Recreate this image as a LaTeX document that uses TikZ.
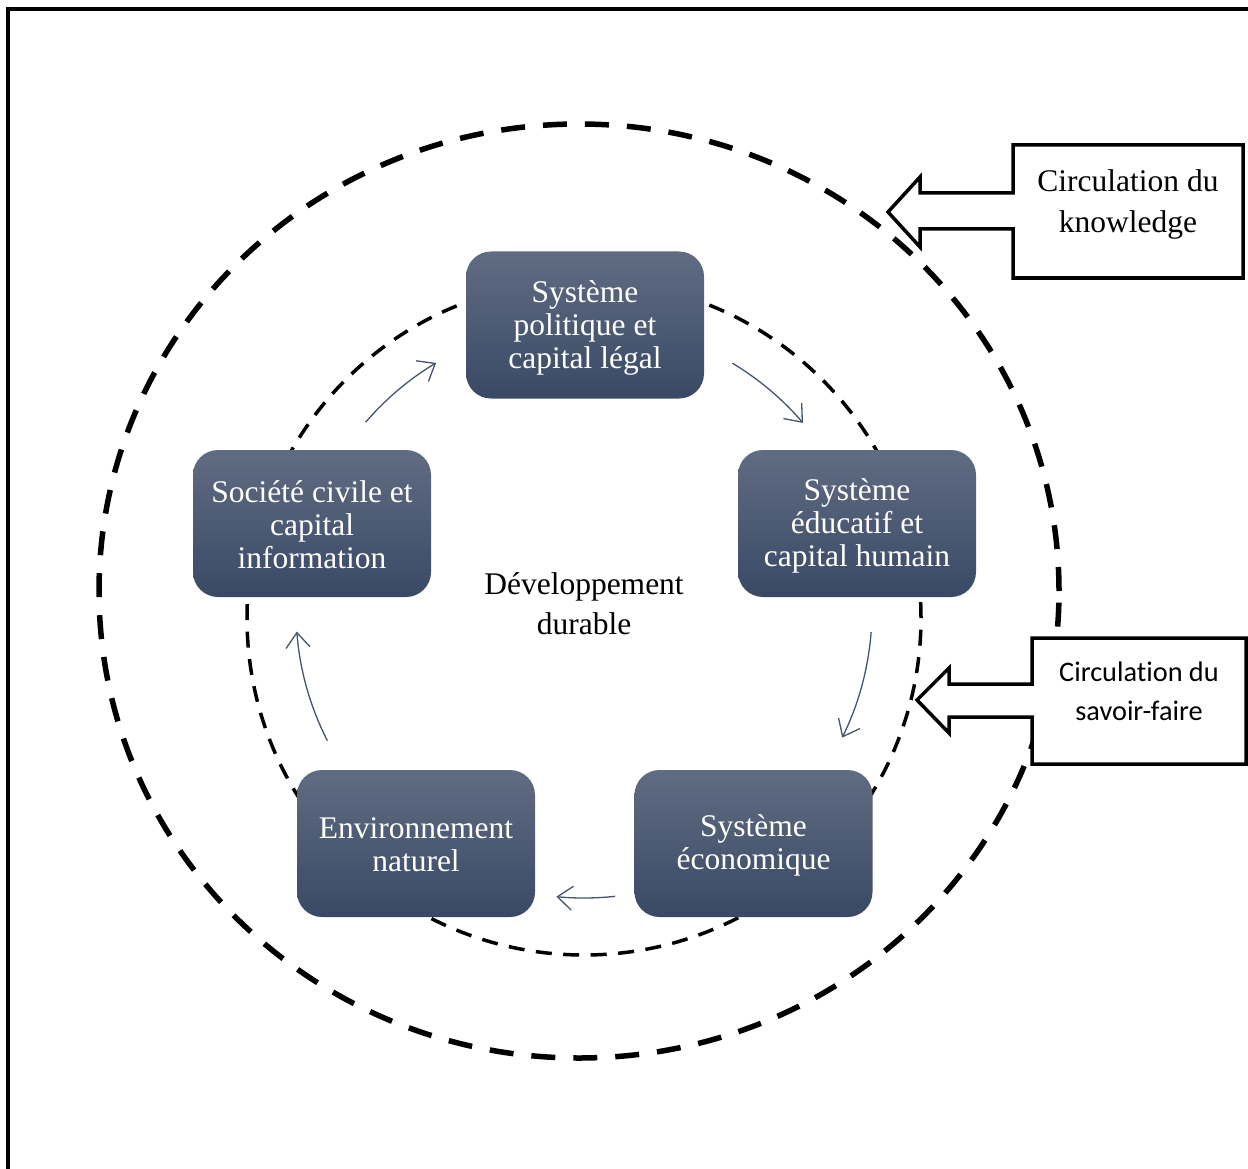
\documentclass[tikz,border=0pt]{standalone}
\usepackage{fontspec}
\setmainfont{Liberation Serif}
\newfontfamily\calfont[Ligatures=NoCommon]{Carlito}
\usetikzlibrary{arrows.meta,calc}
\definecolor{boxtop}{RGB}{96,108,130}
\definecolor{boxbot}{RGB}{57,73,101}
\definecolor{arrcol}{RGB}{68,84,106}
\begin{document}
\begin{tikzpicture}[x=1pt,y=1pt,
  sysbox/.style={rounded corners=25pt, minimum width=238pt, minimum height=147pt,
    top color=boxtop, bottom color=boxbot, draw=none, inner sep=0pt},
  boxtxt/.style={text=white, align=center, font=\fontsize{31.5}{33}\selectfont, inner sep=0pt},
  cyc/.style={draw=arrcol, line width=1.3pt, -{Straight Barb[length=15pt,width=24pt,line width=1.3pt]}},
  outerdash/.style={line width=5.5pt, dash pattern=on 24pt off 18pt},
  innerdash/.style={line width=3.5pt, dash pattern=on 16pt off 11.5pt},
  callout/.style={draw, line width=3.5pt, fill=white, line join=miter},
  lbl/.style={align=center, inner sep=0pt}]
\useasboundingbox (0,0) rectangle (1248,-1169);
\clip (0,0) rectangle (1248,-1169);
% frame
\draw[line width=4pt] (8,-1200) -- (8,-9.5) -- (1300,-9.5);
% dashed circles
\draw[outerdash] (579,-591) ellipse [x radius=480, y radius=467];
\draw[innerdash] (584,-618) circle [radius=337];
% boxes
\node[sysbox] (pol) at (585,-325) {};
\node[sysbox] (edu) at (857,-523.5) {};
\node[sysbox] (eco) at (753.5,-843.5) {};
\node[sysbox] (env) at (416,-843.5) {};
\node[sysbox] (soc) at (312,-523.5) {};
\node[boxtxt] (polt) at ([yshift=-3pt]pol.center) {Système\\politique et\\capital légal};
\node[boxtxt] (edut) at ([yshift=-2pt]edu.center) {Système\\éducatif et\\capital humain};
\node[boxtxt] (ecot) at ([yshift=-2pt]eco.center) {Système\\économique};
\node[boxtxt] (envt) at ([yshift=-1pt]env.center) {Environnement\\naturel};
\node[boxtxt] (soct) at ([yshift=-1pt]soc.center) {Société civile et\\capital\\information};
\node[lbl, font=\fontsize{31.5}{40}\selectfont] (dd) at (584,-603.5) {Développement\\durable};
% cycle arrows
\coordinate (C) at (584,-610);
\draw[cyc] ($(C)+(59:288)$) arc[start angle=59, end angle=40.5, radius=288];
\draw[cyc] ($(C)+(-4.4:288)$) arc[start angle=-4.4, end angle=-26.3, radius=288];
\draw[cyc] ($(C)+(-83.8:288)$) arc[start angle=-83.8, end angle=-95.5, radius=288];
\draw[cyc] ($(C)+(207:288)$) arc[start angle=207, end angle=184.3, radius=288];
\draw[cyc] ($(C)+(139.3:288)$) arc[start angle=139.3, end angle=120.9, radius=288];
% callouts
\draw[callout] (1013,-193) -- (1013,-145) -- (1243,-145) -- (1243,-278) -- (1013,-278)
  -- (1013,-229) -- (920,-229) -- (920,-247) -- (888,-212) -- (920,-177) -- (920,-193) -- cycle;
\node[lbl, font=\fontsize{31.5}{41}\selectfont] (know) at (1128,-204) {Circulation du\\knowledge};
\draw[callout] (1032,-684) -- (1032,-638) -- (1246,-638) -- (1246,-764) -- (1032,-764)
  -- (1032,-717) -- (949,-717) -- (949,-733) -- (917,-700) -- (949,-668) -- (949,-684) -- cycle;
\node[lbl, font=\calfont\fontsize{28.3}{39}\selectfont] (sav) at (1139,-691) {Circulation du\\savoir-faire};
\end{tikzpicture}
\end{document}
